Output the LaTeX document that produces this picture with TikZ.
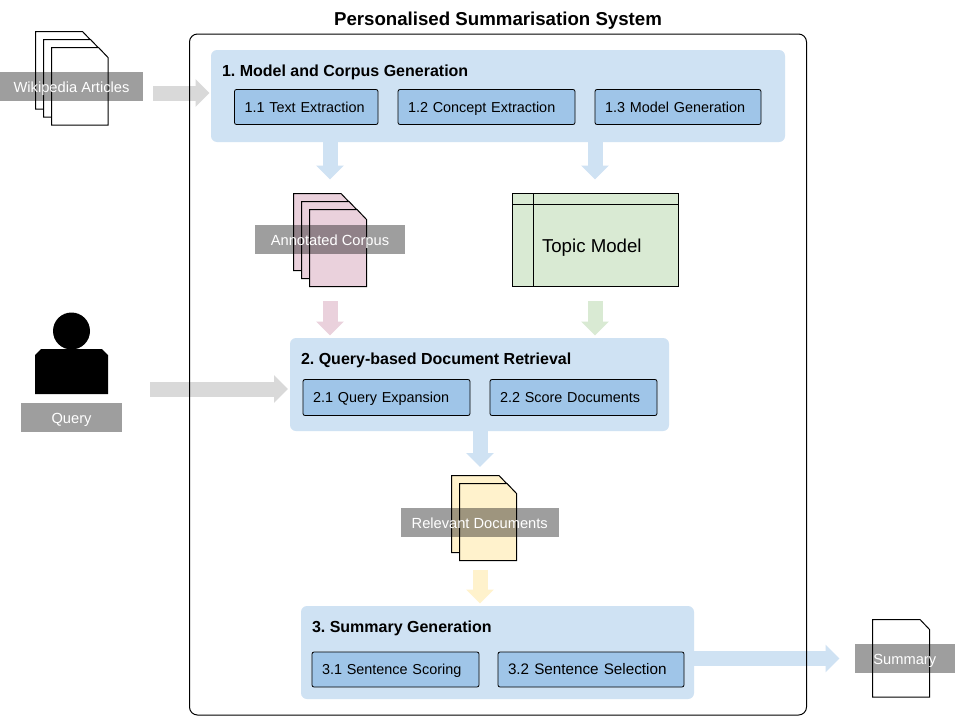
\documentclass[tikz,border=0pt]{standalone}
\usepackage{fontspec}
\setmainfont{Liberation Sans}
\usetikzlibrary{arrows.meta,calc}
\frenchspacing
\definecolor{panelblue}{HTML}{CFE2F3}
\definecolor{innerblue}{HTML}{9FC5E8}
\definecolor{softpink}{HTML}{EAD1DC}
\definecolor{softgreen}{HTML}{D9EAD3}
\definecolor{softyellow}{HTML}{FFF2CC}
\definecolor{softgrey}{HTML}{D9D9D9}
\tikzset{
  every node/.style={outer sep=0pt},
  blockarrow/.style={line width=15pt,draw=#1,-{Triangle[width=27pt,length=14pt,fill=#1]}},
  panel/.style={fill=panelblue,rounded corners=6pt,anchor=north west,inner sep=0pt},
  panelhead/.style={anchor=west,inner sep=0pt,text height=11.5pt,text depth=0pt,font=\frenchspacing\fontsize{16}{19}\selectfont\bfseries},
  task/.style={fill=innerblue,draw=black,line width=.8pt,rounded corners=2pt,anchor=north west,
    inner xsep=10pt,inner ysep=0pt,align=left,text height=11pt,text depth=.5pt,font=\fontsize{14.4}{17}\selectfont},
  tag/.style={fill=black,fill opacity=.38,text opacity=1,text=white,anchor=north west,inner sep=0pt,
    text height=13pt,text depth=1pt,font=\fontsize{14.67}{17}\selectfont},
  docframe/.style={inner sep=0pt,anchor=north west},
  docline/.style={draw=black,line width=1pt,line join=miter},
}
% name, x, y, width, height, fill
\newcommand{\docsheet}[6]{%
  \node[docframe,minimum width=#4pt,minimum height=#5pt] (#1) at (#2,#3) {};
  \draw[docline,fill=#6] (#1.north west) -- ($(#1.north east)+(-9.5pt,0pt)$) -- ($(#1.north east)+(0pt,-10pt)$)
    -- (#1.south east) -- (#1.south west) -- cycle;}
\newcommand{\tasknode}[7][]{%
  \node[task,text width=#5pt-20pt,minimum height=#6pt,#1] (#2) at (#3,#4) {#7};}
\begin{document}
\begin{tikzpicture}[x=1pt,y=-1pt]
\useasboundingbox[fill=white] (0,0) rectangle (960,720);

% panels
\node[panel,minimum width=574pt,minimum height=92pt] (m1) at (211,50) {};
\node[panel,minimum width=379pt,minimum height=93pt] (m2) at (290,338) {};
\node[panel,minimum width=393pt,minimum height=93pt] (m3) at (301,606) {};

% documents
\docsheet{wikiA}{35.5}{31.5}{56.5}{77.5}{white}
\docsheet{wikiB}{43.5}{39.5}{56.5}{77.5}{white}
\docsheet{wikiC}{51.5}{47.5}{56.5}{77.5}{white}
\docsheet{corpusA}{293.5}{193.5}{57}{77}{softpink}
\docsheet{corpusB}{301.5}{201.5}{57}{77}{softpink}
\docsheet{corpusC}{309.5}{209.5}{57}{77}{softpink}
\docsheet{relA}{451.5}{475.5}{57}{77}{softyellow}
\docsheet{relB}{459.5}{483.5}{57}{77}{softyellow}
\docsheet{sumdoc}{872.5}{619.5}{57}{77.5}{white}

% topic model
\node[docframe,draw=black,line width=1pt,fill=softgreen,minimum width=166pt,minimum height=93pt] (topic) at (512.5,193.5) {};
\coordinate (topicv) at (533.5,204.5);
\draw[docline] (topicv |- topic.north) -- (topicv |- topic.south);
\draw[docline] (topicv -| topic.west) -- (topicv -| topic.east);
\node[anchor=west,inner sep=0pt,font=\fontsize{18.67}{22}\selectfont] (topiclabel) at (542,247.5) {Topic Model};

% person
\node[circle,fill=black,inner sep=0pt,minimum size=37pt] (head) at (71.5,331) {};
\node[inner sep=0pt,minimum width=73pt,minimum height=45pt,anchor=north west] (body) at (35,349) {};
\fill[black] ($(body.north west)+(6pt,0pt)$) -- ($(body.north east)+(-6pt,0pt)$) -- ($(body.north east)+(0pt,-6pt)$)
  -- (body.south east) -- (body.south west) -- ($(body.north west)+(0pt,-6pt)$) -- cycle;

% columns for the vertical connectors
\coordinate (colA) at (330,0);
\coordinate (colB) at (595,0);
\coordinate (colC) at (480,0);
\coordinate (wikistart) at (153,93);
\coordinate (querystart) at (150,389);
\coordinate (sumend) at (839.5,658.5);

% connectors
\draw[blockarrow=softgrey,shorten >=1.5pt] (wikistart) -- (wikistart -| m1.west);
\draw[blockarrow=softgrey,shorten >=2pt] (querystart) -- (querystart -| m2.west);
\draw[blockarrow=panelblue] (sumend -| m3.east) -- (sumend);
\draw[blockarrow=panelblue,shorten >=14pt] (m1.south -| colA) -- (corpusA.north -| colA);
\draw[blockarrow=panelblue,shorten >=14pt] (m1.south -| colB) -- (topic.north -| colB);
\draw[blockarrow=softpink,shorten <=14.5pt,shorten >=2.5pt] (corpusC.south -| colA) -- (m2.north -| colA);
\draw[blockarrow=softgreen,shorten <=14.5pt,shorten >=2.5pt] (topic.south -| colB) -- (m2.north -| colB);
\draw[blockarrow=panelblue,shorten >=8.5pt] (m2.south -| colC) -- (relA.north -| colC);
\draw[blockarrow=softyellow,shorten <=9pt,shorten >=2.5pt] (relB.south -| colC) -- (m3.north -| colC);

% system frame
\node[draw=black,line width=1pt,rounded corners=8pt,inner sep=0pt,anchor=north west,minimum width=617pt,minimum height=681pt] (system) at (189.5,34) {};
\node[inner sep=0pt,font=\fontsize{18.67}{22}\selectfont\bfseries] (title) at (498,21) {Personalised Summarisation System};

% panel headings
\node[panelhead] (h1) at (222,70.5) {1. Model and Corpus Generation};
\node[panelhead] (h2) at (301,358.5) {2. Query-based Document Retrieval};
\node[panelhead] (h3) at (312,627) {3. Summary Generation};

% tasks
\tasknode{t11}{234.5}{89.5}{143.5}{35}{1.1 Text Extraction}
\tasknode{t12}{398}{89.5}{177}{35}{1.2 Concept Extraction}
\tasknode{t13}{595}{89.5}{166}{35}{1.3 Model Generation}
\tasknode{t21}{303}{379.5}{167}{36}{2.1 Query Expansion}
\tasknode{t22}{490}{379.5}{167}{36}{2.2 Score Documents}
\tasknode{t31}{312}{652}{167}{35}{3.1 Sentence Scoring}
\tasknode[font=\fontsize{15.25}{18}\selectfont]{t32}{498}{652}{186}{35}{3.2 Sentence Selection}

% labels
\node[tag,minimum width=143pt,minimum height=29pt] (wikitag) at (0,72) {Wikipedia Articles};
\node[tag,minimum width=150pt,minimum height=29pt] (corpustag) at (255,225) {Annotated Corpus};
\node[tag,minimum width=101pt,minimum height=29pt] (querytag) at (21,403) {Query};
\node[tag,minimum width=158.5pt,minimum height=29pt] (reltag) at (400.5,508) {Relevant Documents};
\node[tag,minimum width=100.5pt,minimum height=29pt] (sumtag) at (854.5,644) {Summary};
\end{tikzpicture}
\end{document}
